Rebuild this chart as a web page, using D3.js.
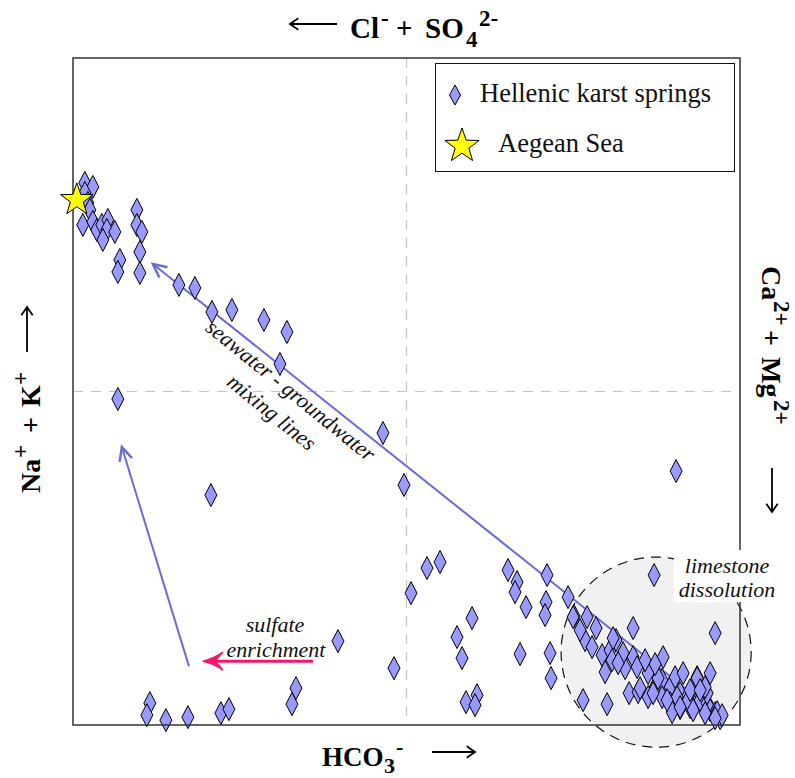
<!DOCTYPE html>
<html><head><meta charset="utf-8">
<script src="https://cdn.jsdelivr.net/npm/d3@7"></script>
<style>html,body{margin:0;padding:0;background:#fff;} svg{display:block;}</style>
</head><body>
<svg id="c" width="795" height="778"></svg>
<script>
// ---- data (milliequivalent % differences) ----
const springX = [-96.45,-94.05,-96.45,-95.55,-94.95,-97.05,-94.05,-92.85,-91.35,-89.55,-89.85,-91.05,-87.45,-80.85,-80.85,-79.35,-79.95,-85.95,-86.55,-79.95,
 -68.25,-63.45,-58.35,-52.35,-42.75,-35.85,-37.95,-86.55,-58.65,-7.05,-0.75,6.15,10.05,1.35,19.65,15.15,16.65,-3.75,17.85,21.15,20.55,
 30.45,33.15,32.55,35.85,42.15,41.85,41.55,34.05,43.05,43.35,48.45,50.25,-76.95,-77.85,-72.15,-65.55,-55.65,-53.25,-33.15,-34.35,-20.55,
 80.85,74.25,49.95,54.15,52.95,60.15,67.95,92.55,53.55,55.65,58.65,61.05,62.85,61.65,59.55,64.65,67.95,65.55,69.15,66.75,69.45,72.45,
 76.95,74.55,72.45,76.65,76.65,79.05,80.55,82.95,82.05,79.05,84.15,87.15,85.95,91.05,88.05,90.15,91.05,92.55,94.05,85.05,82.05,79.65,
 90.15,89.55,61.95,64.95,70.05,73.95,75.45,87.15,81.15,84.45,93.15,94.65,78.15,82.05,85.95,89.55,92.55,56.85,52.05,63.45,71.55,74.55,85.05,88.05];
const springY = [62.55,61.35,59.55,56.55,54.45,49.95,50.85,48.45,49.95,51.45,48.45,45.45,47.85,54.45,49.95,47.85,41.85,39.45,35.85,35.55,
 31.95,31.05,23.85,24.45,21.45,17.85,8.25,-2.25,-31.05,-12.45,-28.05,-52.95,-51.15,-60.45,-67.95,-73.65,-79.95,-82.95,-93.15,-91.05,-94.05,
 -53.55,-57.15,-60.15,-64.65,-55.05,-63.15,-67.05,-78.75,-78.45,-85.95,-61.65,-67.35,-93.45,-97.05,-98.55,-97.65,-96.45,-95.25,-88.95,-93.75,-74.85,
 -23.85,-55.05,-67.65,-67.65,-92.55,-93.75,-70.95,-72.45,-74.55,-76.65,-79.05,-77.55,-74.55,-80.55,-84.15,-79.65,-79.65,-82.95,-82.65,-90.45,-90.15,-84.45,
 -79.65,-88.65,-91.65,-86.55,-91.65,-88.65,-85.65,-84.45,-90.45,-93.45,-91.65,-85.65,-88.65,-84.45,-92.55,-93.45,-95.55,-96.45,-97.95,-94.65,-94.95,-96.15,
 -90.45,-88.65,-73.95,-78.45,-88.95,-90.45,-85.95,-85.95,-91.65,-92.55,-96.15,-97.05,-92.55,-94.65,-95.55,-96.45,-97.95,-70.95,-71.55,-81.45,-80.55,-81.75,-89.55,-89.55];
const seaX = [-98.85];
const seaY = [57.45];
const mixingLine = [[92.55,-96.15],[-76.05,38.25]];
const sulfateLine = [[-65.25,-82.35],[-85.35,-16.65]];
const sulfateArrow = [[-28.05,-80.85],[-61.05,-80.85]];
const limestone = {cx:74.85, cy:-78.15, r:28.5};
const legendLabels = ["Hellenic karst springs","Aegean Sea"];

// ---- drawing ----
const svg = d3.select("#c");
const L=73, R=740, T=58, B=725;
const x = d3.scaleLinear().domain([-100,100]).range([L,R]);
const y = d3.scaleLinear().domain([-100,100]).range([B,T]);
const serif = "'Liberation Serif','Times New Roman',Times,serif";
const blue = "#6b6bd3", pink = "#f5166c", dfill = "#9999ff";

svg.append("rect").attr("width",795).attr("height",778).attr("fill","#fff");

// limestone circle
const rpx = x(limestone.r) - x(0);
svg.append("circle").attr("cx",x(limestone.cx)).attr("cy",y(limestone.cy)).attr("r",rpx)
  .attr("fill","#f1f1f1").attr("stroke","#111").attr("stroke-width",1.2).attr("stroke-dasharray","10,7");

// center dashed lines
svg.append("line").attr("x1",x(0)).attr("x2",x(0)).attr("y1",T).attr("y2",B)
  .attr("stroke","#c4c4c4").attr("stroke-width",1.2).attr("stroke-dasharray","10,8");
svg.append("line").attr("x1",L).attr("x2",R).attr("y1",y(0)).attr("y2",y(0))
  .attr("stroke","#c4c4c4").attr("stroke-width",1.2).attr("stroke-dasharray","10,8");

function chevron(p0,p1,len,ang,color,w){
  const tx=x(p1[0]), ty=y(p1[1]);
  const a=Math.atan2(y(p0[1])-ty, x(p0[0])-tx);
  const pts=[[tx+len*Math.cos(a+ang), ty+len*Math.sin(a+ang)],[tx,ty],[tx+len*Math.cos(a-ang), ty+len*Math.sin(a-ang)]];
  svg.append("path").attr("d","M"+pts.join("L")).attr("fill","none").attr("stroke",color)
    .attr("stroke-width",w).attr("stroke-linejoin","miter").attr("stroke-linecap","butt");
}
function line2(p,color,w){
  svg.append("line").attr("x1",x(p[0][0])).attr("y1",y(p[0][1])).attr("x2",x(p[1][0])).attr("y2",y(p[1][1]))
    .attr("stroke",color).attr("stroke-width",w);
}
line2(mixingLine,blue,2); chevron(mixingLine[0],mixingLine[1],15,0.45,blue,2.5);
line2(sulfateLine,blue,2); chevron(sulfateLine[0],sulfateLine[1],15,0.45,blue,2.5);
// pink arrow
{
  const x0=x(sulfateArrow[0][0]), x1=x(sulfateArrow[1][0]), yy=y(sulfateArrow[0][1]);
  svg.append("line").attr("x1",x0).attr("x2",x1+8).attr("y1",yy).attr("y2",yy).attr("stroke",pink).attr("stroke-width",3);
  svg.append("path").attr("d",`M${x1},${yy} Q${x1+12},${yy-3} ${x1+20},${yy-9} Q${x1+14},${yy-2} ${x1+12},${yy} Q${x1+14},${yy+2} ${x1+20},${yy+9} Q${x1+12},${yy+3} ${x1},${yy}Z`)
    .attr("fill",pink).attr("stroke",pink).attr("stroke-width",1.5);
}

// texts (italic annotations)
function itText(tx,ty,s,rot){
  svg.append("text").attr("transform",`translate(${tx},${ty}) rotate(${rot||0})`).attr("text-anchor","middle")
    .attr("font-family",serif).attr("font-style","italic").attr("font-size",22).attr("fill","#111").text(s);
}
itText(286,396,"seawater - groundwater",39);
itText(267,418,"mixing lines",39);
itText(275,632,"sulfate");
itText(276,657,"enrichment");

// diamonds
const diamond = "M0,-11.5L6,0L0,11.5L-6,0Z";
svg.append("g").selectAll("path").data(d3.range(springX.length)).join("path")
  .attr("d",diamond).attr("transform",i=>`translate(${x(springX[i])},${y(springY[i])})`)
  .attr("fill",dfill).attr("stroke","#000").attr("stroke-width",1);

// frame
svg.append("rect").attr("x",L).attr("y",T).attr("width",R-L).attr("height",B-T)
  .attr("fill","none").attr("stroke","#333").attr("stroke-width",1.5);

// limestone label box
svg.append("rect").attr("x",674).attr("y",550).attr("width",110).attr("height",52).attr("fill","#fff");
itText(727,573,"limestone");
itText(727,597,"dissolution");

function starPath(r){
  const p=[]; for(let i=0;i<10;i++){const a=-Math.PI/2+i*Math.PI/5; const rr=i%2?r*0.4:r; p.push([rr*Math.cos(a),rr*Math.sin(a)]);}
  return "M"+p.map(d=>d[0].toFixed(2)+","+d[1].toFixed(2)).join("L")+"Z";
}
svg.append("g").selectAll("path").data(seaX).join("path")
  .attr("d",starPath(17)).attr("transform",(d,i)=>`translate(${x(seaX[i])},${y(seaY[i])})`)
  .attr("fill","#ffff00").attr("stroke","#000").attr("stroke-width",1);

// legend
svg.append("rect").attr("x",435.5).attr("y",63.5).attr("width",299).attr("height",108).attr("fill","#fff").attr("stroke","#111").attr("stroke-width",1);
svg.append("path").attr("d","M0,-10L5.5,0L0,10L-5.5,0Z").attr("transform","translate(455,95)").attr("fill",dfill).attr("stroke","#000");
svg.append("path").attr("d",starPath(18)).attr("transform","translate(462,146)").attr("fill","#ffff00").attr("stroke","#000");
svg.append("text").attr("x",480).attr("y",102).attr("font-family",serif).attr("font-size",26.5).attr("fill","#111").text(legendLabels[0]);
svg.append("text").attr("x",498).attr("y",152).attr("font-family",serif).attr("font-size",26.5).attr("fill","#111").text(legendLabels[1]);

// axis labels
function arrow(x1,y1,x2,y2){
  svg.append("line").attr("x1",x1).attr("y1",y1).attr("x2",x2).attr("y2",y2).attr("stroke","#000").attr("stroke-width",1.8);
  const a=Math.atan2(y1-y2,x1-x2), len=10, ang=0.6;
  svg.append("path").attr("d",`M${x2+len*Math.cos(a+ang)},${y2+len*Math.sin(a+ang)}L${x2},${y2}L${x2+len*Math.cos(a-ang)},${y2+len*Math.sin(a-ang)}`)
    .attr("fill","none").attr("stroke","#000").attr("stroke-width",1.8);
}
// parts: [text, offset along baseline, kind]
function label(transform, size, supSize, parts, subOff){
  const g=svg.append("g").attr("transform",transform);
  parts.forEach(p=>{
    const k=p[2];
    g.append("text").attr("x",p[1]).attr("y",k==="sup"?-12:(k==="sub"?(subOff||9):0))
      .attr("font-family",serif).attr("font-weight","bold").attr("font-size",k?supSize:size).attr("fill","#000").text(p[0]);
  });
}
label("translate(350,38)",29,23,[["Cl",0],["-",31,"sup"],["+",46],["SO",75],["4",116,"sub"],["2-",129,"sup"]]);
arrow(337,24,290,24);
label("translate(322,766)",27,22,[["HCO",0],["3",62,"sub"],["-",74,"sup"]],7);
arrow(432,752,475,752);
label("translate(40,493) rotate(-90)",28,23,[["Na",0],["+",35,"sup"],["+",60],["K",86],["+",108,"sup"]]);
arrow(27,352,27,307);
label("translate(762,266) rotate(90)",28,23,[["Ca",0],["2+",35,"sup"],["+",64],["Mg",91],["2+",134,"sup"]]);
arrow(772,468,772,512);
</script>
</body></html>
